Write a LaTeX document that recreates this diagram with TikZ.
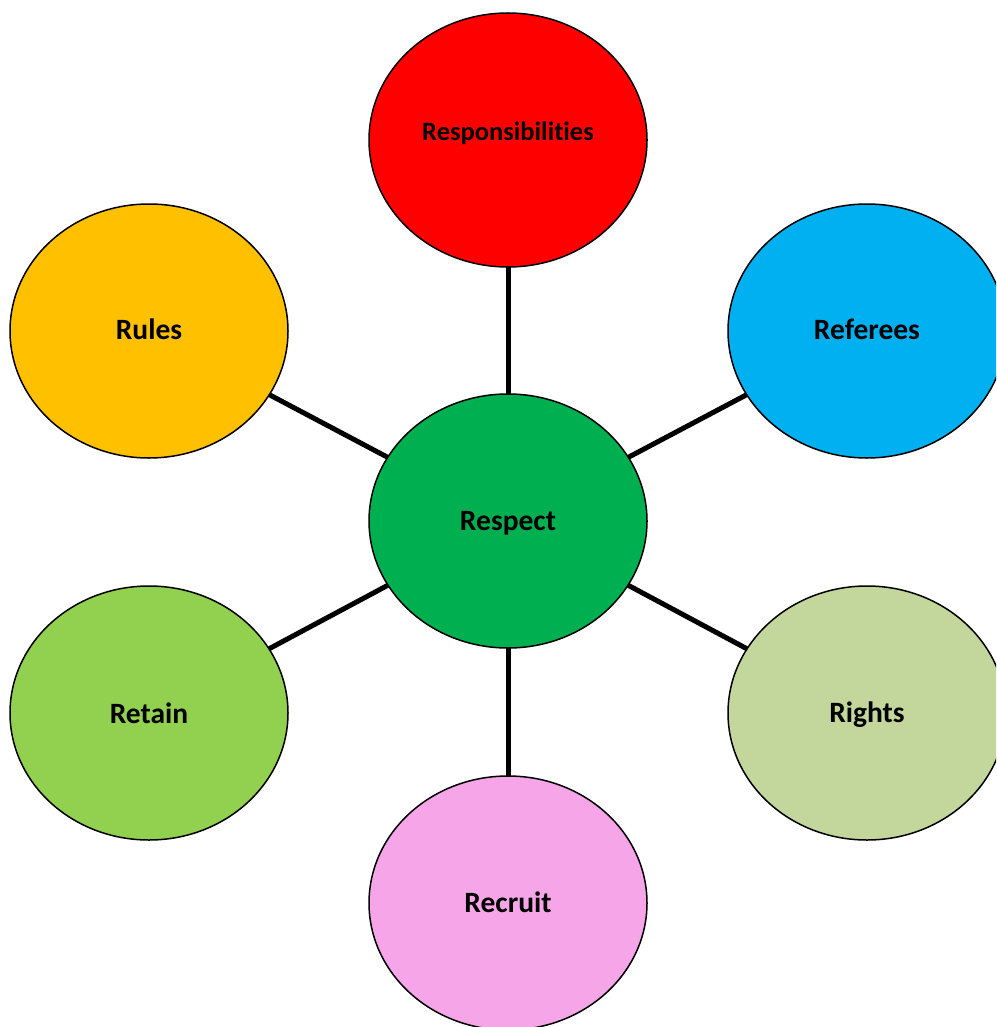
\documentclass[tikz,border=0pt]{standalone}
\usepackage{fontspec}
\setmainfont{Carlito}[Ligatures={NoCommon}]
\usetikzlibrary{shapes.geometric}
\definecolor{cRed}{HTML}{FF0000}
\definecolor{cBlue}{HTML}{00B0F0}
\definecolor{cOrange}{HTML}{FFC000}
\definecolor{cGreen}{HTML}{00B050}
\definecolor{cLight}{HTML}{92D050}
\definecolor{cOlive}{HTML}{C3D69B}
\definecolor{cPink}{HTML}{F6A5E8}
\begin{document}
\begin{tikzpicture}[x=1pt,y=-1pt,
  bubble/.style={ellipse, draw=black, line width=1.5pt, minimum width=278pt, minimum height=254pt, inner sep=0pt},
  txt/.style={inner sep=0pt, font=\fontsize{29.5}{32}\selectfont\bfseries},
  link/.style={line width=5pt, black}]
\useasboundingbox (0,0) rectangle (996,1027);
\clip (0,0) rectangle (996,1027);
\coordinate (cRespect) at (508,521);
\coordinate (cResp) at (508,140);
\coordinate (cRef) at (867,331);
\coordinate (cRules) at (149,331);
\coordinate (cRetain) at (149,713);
\coordinate (cRights) at (867,713);
\coordinate (cRecruit) at (508,903);
\foreach \t in {cResp,cRef,cRules,cRetain,cRights,cRecruit} \draw[link] (cRespect) -- (\t);
\node[bubble, fill=cGreen] (respect) at (cRespect) {};
\node[bubble, fill=cRed] (resp) at (cResp) {};
\node[bubble, fill=cBlue] (ref) at (cRef) {};
\node[bubble, fill=cOrange] (rules) at (cRules) {};
\node[bubble, fill=cLight] (retain) at (cRetain) {};
\node[bubble, fill=cOlive] (rights) at (cRights) {};
\node[bubble, fill=cPink] (recruit) at (cRecruit) {};
\node[txt] (respectT) at ([yshift=-2pt]respect.center) {Respect};
\node[txt, font=\fontsize{26.5}{30}\selectfont\bfseries] (respT) at ([yshift=7pt]resp.center) {Responsibilities};
\node[txt] (refT) at ([yshift=2pt]ref.center) {Referees};
\node[txt] (rulesT) at ([yshift=2pt]rules.center) {Rules};
\node[txt] (retainT) at (retain.center) {Retain};
\node[txt] (rightsT) at ([yshift=-2pt]rights.center) {Rights};
\node[txt] (recruitT) at ([yshift=1pt]recruit.center) {Recruit};
\end{tikzpicture}
\end{document}
